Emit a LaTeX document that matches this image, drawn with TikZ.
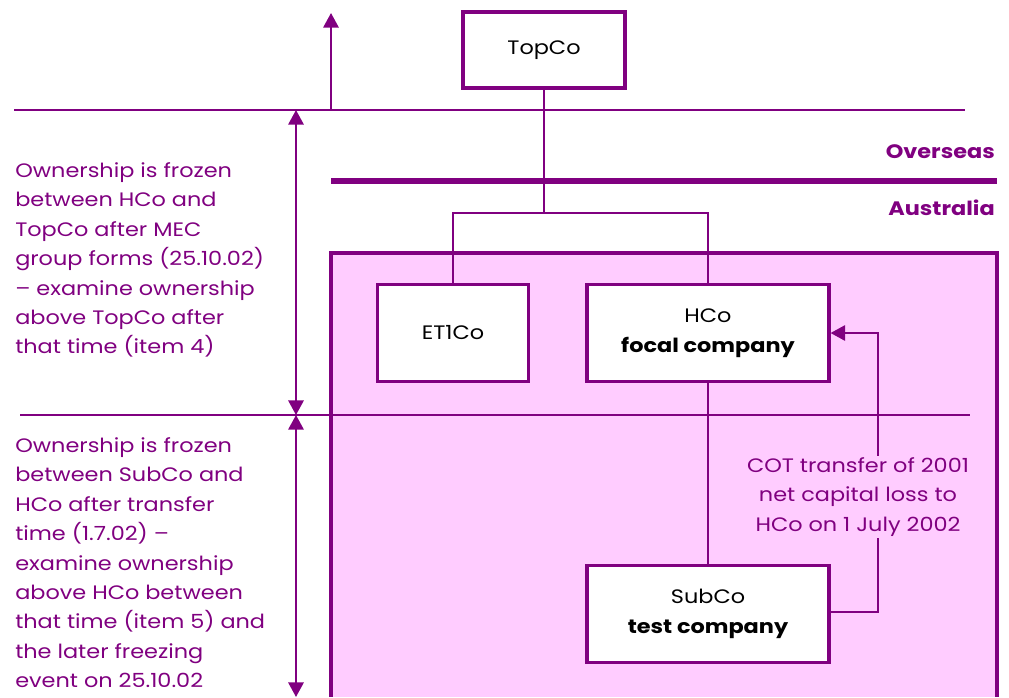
\documentclass[tikz,border=0pt]{standalone}
\usepackage{fontspec}
\setmainfont{Poppins}[FakeStretch=1.15]
\usetikzlibrary{positioning,arrows.meta}
\definecolor{plum}{RGB}{128,0,128}
\definecolor{softpink}{RGB}{255,204,255}

\begin{document}
\begin{tikzpicture}[x=0.75pt,y=-0.75pt,
  every node/.style={font=\fontsize{14.6}{22.1}\selectfont},
  cobox/.style={draw=plum, line width=2.3pt, fill=white, align=center, inner sep=2pt},
  note/.style={text=plum, align=left, anchor=north west, inner sep=0pt},
  zone/.style={text=plum, font=\fontsize{14.6}{16}\selectfont\bfseries, anchor=east, inner sep=0pt},
  link/.style={draw=plum, line width=1.7pt},
  sep/.style={draw=plum, line width=1.5pt},
  arr/.style={-{Triangle[length=11pt,width=11.5pt]}},
  twoarr/.style={{Triangle[length=11pt,width=11.5pt]}-{Triangle[length=11pt,width=11.5pt]}}
]
  \useasboundingbox (0,0) rectangle (1009,697);

  % Australian group
  \fill[softpink] (331,253) rectangle (997,697);
  \draw[plum, line width=2.3pt] (331,697) -- (331,253) -- (997,253) -- (997,697);

  % border lines
  \draw[sep] (14,110) -- (965,110);
  \draw[sep] (20,415) -- (970,415);
  \draw[plum, line width=4pt] (331,181) -- (997,181);
  \node[zone] (overseas)  at (995,152) {Overseas};
  \node[zone] (australia) at (995,208) {Australia};

  % companies
  \node[cobox, minimum width=121.5pt, minimum height=57pt]    (topco) at (544,50)  {TopCo};
  \node[cobox, minimum width=113.25pt, minimum height=72.75pt] (etco)  at (453,333) {ET1Co};
  \node[cobox, minimum width=181.5pt, minimum height=72.75pt]  (hco)   at (708,333) {HCo\\\textbf{focal company}};
  \node[cobox, minimum width=181.5pt, minimum height=72.75pt]  (subco) at (708,614) {SubCo\\\textbf{test company}};

  \coordinate (fork) at (544,213);
  \draw[link] (topco) -- (fork);
  \draw[link] (etco.north) |- (fork) -| (hco.north);
  \draw[link] (hco) -- (subco);

  % COT transfer
  \coordinate (bend) at (878,612);
  \draw[link, arr] (subco.east |- bend) -- (bend) |- (hco.east);
  \node[fill=softpink, text=plum, align=center, inner sep=1pt] (cot) at (858,497)
    {COT transfer of 2001\\net capital loss to\\HCo on 1 July 2002};

  % ownership periods
  \coordinate (above) at (331,13);
  \coordinate (cut)   at (331,110);
  \draw[link, arr] (cut) -- (above);
  \coordinate (mec)  at (296,110);
  \coordinate (xfer) at (296,415);
  \coordinate (now)  at (296,697);
  \draw[link, twoarr] (mec) -- (xfer);
  \draw[link, twoarr] (xfer) -- (now);

  \node[note] (frozenA) at (15,162)
    {Ownership is frozen\\between HCo and\\TopCo after MEC\\group forms (25.10.02)\\– examine ownership\\above TopCo after\\that time (item 4)};
  \node[note] (frozenB) at (15,437)
    {Ownership is frozen\\between SubCo and\\HCo after transfer\\time (1.7.02) –\\examine ownership\\above HCo between\\that time (item 5) and\\the later freezing\\event on 25.10.02};
\end{tikzpicture}
\end{document}
